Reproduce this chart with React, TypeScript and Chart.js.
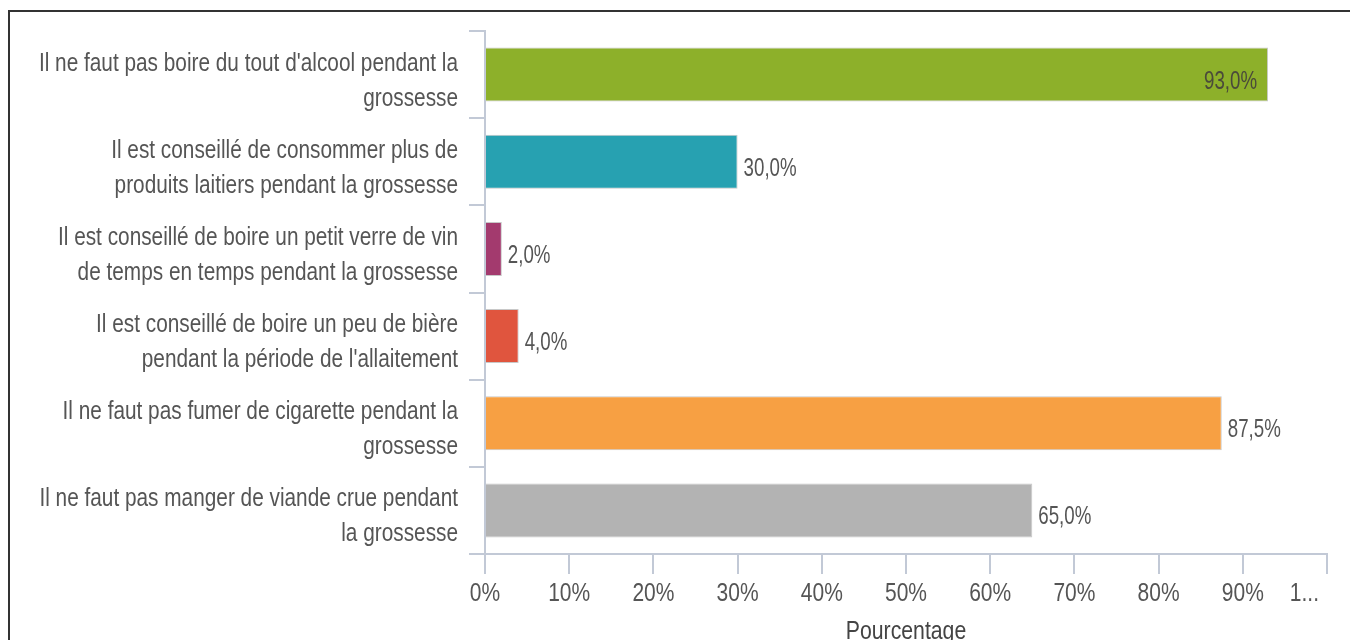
import React, { useEffect, useRef } from "react";
import { Chart, registerables } from "chart.js";

Chart.register(...registerables);

const categories: string[][] = [
  ["Il ne faut pas boire du tout d'alcool pendant la", "grossesse"],
  ["Il est conseillé de consommer plus de", "produits laitiers pendant la grossesse"],
  ["Il est conseillé de boire un petit verre de vin", "de temps en temps pendant la grossesse"],
  ["Il est conseillé de boire un peu de bière", "pendant la période de l'allaitement"],
  ["Il ne faut pas fumer de cigarette pendant la", "grossesse"],
  ["Il ne faut pas manger de viande crue pendant", "la grossesse"],
];
const values: number[] = [93.0, 30.0, 2.0, 4.0, 87.5, 65.0];
const barColors: string[] = ["#8db02a", "#27a1b1", "#a33a6e", "#e0553e", "#f7a043", "#b3b3b3"];
const xTickValues: number[] = [0, 10, 20, 30, 40, 50, 60, 70, 80, 90, 100];
const xTickLabels: string[] = ["0%", "10%", "20%", "30%", "40%", "50%", "60%", "70%", "80%", "90%", "1..."];
const axisTitle = "Pourcentage";

const FONT = "'Liberation Sans', Arial, sans-serif";
const AXIS_COLOR = "#c2c9d6";

function drawText(
  ctx: CanvasRenderingContext2D,
  txt: string,
  x: number,
  y: number,
  align: CanvasTextAlign,
  size: number,
  sx: number,
  color: string
) {
  ctx.save();
  ctx.translate(x, y);
  ctx.scale(sx, 1);
  ctx.font = `${size}px ${FONT}`;
  ctx.textAlign = align;
  ctx.textBaseline = "alphabetic";
  ctx.fillStyle = color;
  ctx.fillText(txt, 0, 0);
  ctx.restore();
}

const textPlugin = {
  id: "customText",
  afterDraw(chart: any) {
    const ctx: CanvasRenderingContext2D = chart.ctx;
    const area = chart.chartArea;
    const xScale = chart.scales.x;
    const yScale = chart.scales.y;

    // category labels
    categories.forEach((lines, i) => {
      const cy = yScale.getPixelForValue(i);
      const first = cy - 4 - ((lines.length - 2) * 35) / 2;
      lines.forEach((line, j) => {
        drawText(ctx, line, yScale.right - 27, first + j * 35, "right", 26, 0.8, "#555555");
      });
    });

    // x tick labels
    xTickValues.forEach((v, i) => {
      const px = xScale.getPixelForValue(v);
      const lbl = xTickLabels[i];
      ctx.save();
      ctx.font = `25px ${FONT}`;
      const w = ctx.measureText(lbl).width * 0.84;
      ctx.restore();
      if (px + w / 2 > area.right - 6) {
        drawText(ctx, lbl, area.right - 8, area.bottom + 47, "right", 25, 0.84, "#555555");
      } else {
        drawText(ctx, lbl, px, area.bottom + 47, "center", 25, 0.84, "#555555");
      }
    });

    // axis title
    drawText(ctx, axisTitle, (area.left + area.right) / 2, area.bottom + 85, "center", 25, 0.85, "#444444");

    // value labels
    const meta = chart.getDatasetMeta(0);
    meta.data.forEach((bar: any, i: number) => {
      const v = values[i];
      const txt = v.toFixed(1).replace(".", ",") + "%";
      ctx.save();
      ctx.font = `26px ${FONT}`;
      const w = ctx.measureText(txt).width * 0.72;
      ctx.restore();
      if (bar.x + 6 + w > area.right - 5) {
        drawText(ctx, txt, bar.x - 11, bar.y + 14, "right", 26, 0.72, "#4a4a3a");
      } else {
        drawText(ctx, txt, bar.x + 6, bar.y + 14, "left", 26, 0.72, "#555555");
      }
    });
  },
};

export default function App() {
  const ref = useRef<HTMLCanvasElement | null>(null);
  useEffect(() => {
    if (!ref.current) return;
    const chart = new Chart(ref.current, {
      type: "bar",
      data: {
        labels: categories.map((c) => c.join(" ")),
        datasets: [
          {
            data: values,
            backgroundColor: barColors,
            borderColor: "#c8c8c8",
            borderWidth: 1,
            barPercentage: 0.62,
            categoryPercentage: 1,
          },
        ],
      },
      options: {
        indexAxis: "y",
        responsive: false,
        animation: false,
        layout: { padding: { top: 31, right: 23, left: 0, bottom: 0 } },
        plugins: { legend: { display: false }, tooltip: { enabled: false } },
        scales: {
          x: {
            min: 0,
            max: 100,
            afterBuildTicks: (scale: any) => {
              scale.ticks = xTickValues.map((v) => ({ value: v }));
            },
            afterFit: (scale: any) => {
              scale.height = 86;
            },
            grid: {
              drawOnChartArea: false,
              drawTicks: true,
              tickLength: 20,
              color: AXIS_COLOR,
              lineWidth: 2,
            },
            border: { display: true, color: AXIS_COLOR, width: 2 },
            ticks: { display: false },
          },
          y: {
            afterFit: (scale: any) => {
              scale.width = 485;
            },
            grid: {
              offset: true,
              drawOnChartArea: false,
              drawTicks: true,
              tickLength: 16,
              color: AXIS_COLOR,
              lineWidth: 2,
            },
            border: { display: true, color: AXIS_COLOR, width: 2 },
            ticks: { display: false },
          },
        },
      },
      plugins: [textPlugin],
    });
    return () => chart.destroy();
  }, []);

  return (
    <div>
      <div style={{ position: "fixed", left: 0, top: 0, width: 1350, height: 640 }}>
        <canvas ref={ref} width={1350} height={640} style={{ display: "block" }} />
      </div>
      <div
        style={{
          position: "fixed",
          left: 8,
          top: 10,
          width: 1400,
          height: 700,
          border: "2px solid #333",
          pointerEvents: "none",
        }}
      />
    </div>
  );
}
